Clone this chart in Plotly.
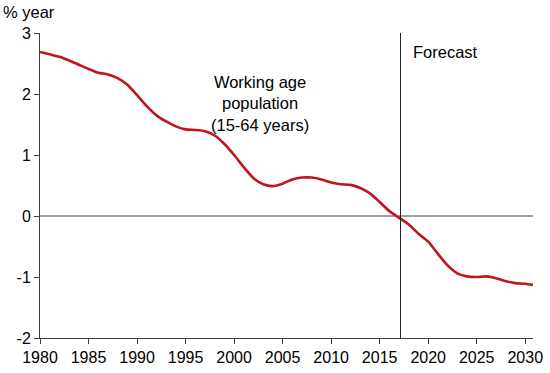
import plotly.graph_objects as go

years = [1980, 1981, 1982, 1983, 1984, 1985, 1986, 1987, 1988, 1989,
         1990, 1991, 1992, 1993, 1994, 1995, 1996, 1997, 1998, 1999,
         2000, 2001, 2002, 2003, 2004, 2005, 2006, 2007, 2008, 2009,
         2010, 2011, 2012, 2013, 2014, 2015, 2016, 2017, 2018, 2019,
         2020, 2021, 2022, 2023, 2024, 2025, 2026, 2027, 2028, 2029,
         2030, 2030.8]
growth = [2.69, 2.65, 2.61, 2.55, 2.48, 2.41, 2.35, 2.32, 2.26, 2.15,
          1.98, 1.80, 1.65, 1.55, 1.47, 1.42, 1.41, 1.39, 1.32, 1.18,
          1.00, 0.80, 0.62, 0.52, 0.49, 0.53, 0.60, 0.63, 0.63, 0.60,
          0.55, 0.52, 0.51, 0.46, 0.37, 0.23, 0.08, -0.03, -0.14, -0.29,
          -0.42, -0.62, -0.81, -0.94, -0.99, -1.00, -0.99, -1.02, -1.07, -1.10,
          -1.11, -1.13]
forecast_start = 2017.15
x_ticks = [1980, 1985, 1990, 1995, 2000, 2005, 2010, 2015, 2020, 2025, 2030]
y_ticks = [-2, -1, 0, 1, 2, 3]
y_tick_labels = ["-2", "-1", "0", "1", "2", "3"]

font_family = "Liberation Sans, Arial, sans-serif"
axis_col = "#404040"

fig = go.Figure()
fig.add_trace(go.Scatter(x=years, y=growth, mode="lines",
                         line=dict(color="#C0141E", width=2.6, shape="spline", smoothing=0.6),
                         hoverinfo="skip", showlegend=False))

fig.add_shape(type="line", xref="paper", yref="y", x0=0, x1=1, y0=0, y1=0,
              line=dict(color="#404040", width=1), layer="below")
fig.add_shape(type="line", xref="x", yref="paper", x0=forecast_start, x1=forecast_start,
              y0=0, y1=1, line=dict(color="#202020", width=1))

fig.add_annotation(x=2002.7, y=1.85, xref="x", yref="y",
                   text="Working age<br>population<br>(15-64 years)",
                   showarrow=False, align="center",
                   font=dict(family=font_family, size=16.5, color="#000000"))
fig.add_annotation(x=2018.45, y=2.69, xref="x", yref="y", xanchor="left",
                   text="Forecast", showarrow=False, xshift=-2,
                   font=dict(family=font_family, size=16.5, color="#000000"))
fig.add_annotation(x=0, y=1.0, xref="paper", yref="paper", xanchor="left", yanchor="middle",
                   xshift=-39, yshift=21,
                   text="% year", showarrow=False,
                   font=dict(family=font_family, size=16.5, color="#000000"))

fig.update_layout(
    width=550, height=373,
    margin=dict(l=40, r=17, t=33, b=35),
    paper_bgcolor="white", plot_bgcolor="white",
    font=dict(family=font_family, size=16, color="#000000"),
)
fig.update_xaxes(range=[1980, 2030.8], tickvals=x_ticks, ticks="outside", ticklen=5,
                 tickcolor=axis_col, showline=True, linecolor=axis_col, linewidth=1,
                 showgrid=False, zeroline=False, tickfont=dict(size=16), automargin=False)
fig.update_yaxes(range=[-2, 3], tickvals=y_ticks, ticktext=y_tick_labels, ticks="outside", ticklen=5,
                 tickcolor=axis_col, showline=True, linecolor=axis_col, linewidth=1,
                 showgrid=False, zeroline=False, tickfont=dict(size=16), automargin=False)

fig.write_html("out.html", config={"displayModeBar": False},
               post_script="document.body.style.margin='0';")
